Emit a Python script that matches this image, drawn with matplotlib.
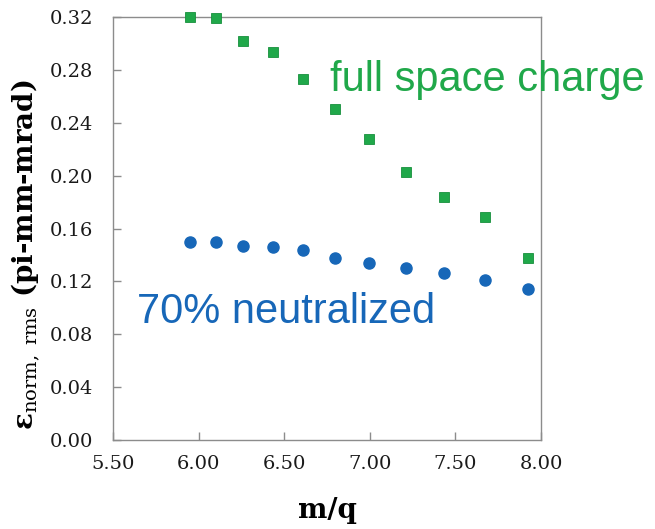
import matplotlib
matplotlib.use("Agg")
import matplotlib.pyplot as plt

# data
mq = [5.950, 6.103, 6.259, 6.433, 6.611, 6.795, 6.997, 7.211, 7.435, 7.671, 7.926]
full_sc = [0.3202, 0.3190, 0.3020, 0.2933, 0.2731, 0.2502, 0.2279, 0.2030, 0.1840, 0.1687, 0.1379]
neutral70 = [0.1498, 0.1495, 0.1465, 0.1460, 0.1437, 0.1379, 0.1339, 0.1303, 0.1261, 0.1210, 0.1145]
xticks = [5.5, 6.0, 6.5, 7.0, 7.5, 8.0]
yticks = [0.00, 0.04, 0.08, 0.12, 0.16, 0.20, 0.24, 0.28, 0.32]

green = '#20a84a'
blue = '#1767b8'

plt.rcParams['mathtext.fontset'] = 'dejavuserif'

fig = plt.figure(figsize=(6.55, 5.29), dpi=100)
ax = fig.add_axes([113/655, 1 - 440/529, 428/655, 423/529])

ax.plot(mq, full_sc, linestyle='none', marker='s', markersize=7.8,
        color=green, markeredgecolor='#17903c', markeredgewidth=0.6, clip_on=False, zorder=3)
ax.plot(mq, neutral70, linestyle='none', marker='o', markersize=8,
        color=blue, markeredgecolor=blue, clip_on=False, zorder=3)

ax.set_xlim(5.5, 8.0)
ax.set_ylim(0.0, 0.32)
ax.set_xticks(xticks)
ax.set_yticks(yticks)
ax.set_xticklabels([f'{v:.2f}' for v in xticks])
ax.set_yticklabels([f'{v:.2f}' for v in yticks])

for s in ax.spines.values():
    s.set_color('#8c8c8c')
    s.set_linewidth(1.0)
ax.tick_params(axis='both', direction='in', length=6, width=1, color='#8c8c8c',
               labelsize=14, labelcolor='#1a1a1a')
ax.tick_params(axis='y', pad=14)
ax.tick_params(axis='x', pad=11)
for lab in ax.get_xticklabels() + ax.get_yticklabels():
    lab.set_family('DejaVu Serif')

ax.set_xlabel('m/q', family='DejaVu Serif', fontweight='bold', fontsize=20)
ax.xaxis.set_label_coords(0.5, -0.135)
ax.set_ylabel(r'ε$_{\mathrm{norm,\ rms}}$ (pi-mm-mrad)', family='DejaVu Serif',
              fontweight='bold', fontsize=20)
ax.yaxis.set_label_coords(-0.166, 0.437)

ax.text(6.77, 0.272, 'full space charge', color=green, fontsize=30,
        family='Liberation Sans', va='center', ha='left', clip_on=False)
ax.text(5.64, 0.097, '70% neutralized', color=blue, fontsize=30,
        family='Liberation Sans', va='center', ha='left', clip_on=False)

fig.savefig('out.png', dpi=100)
